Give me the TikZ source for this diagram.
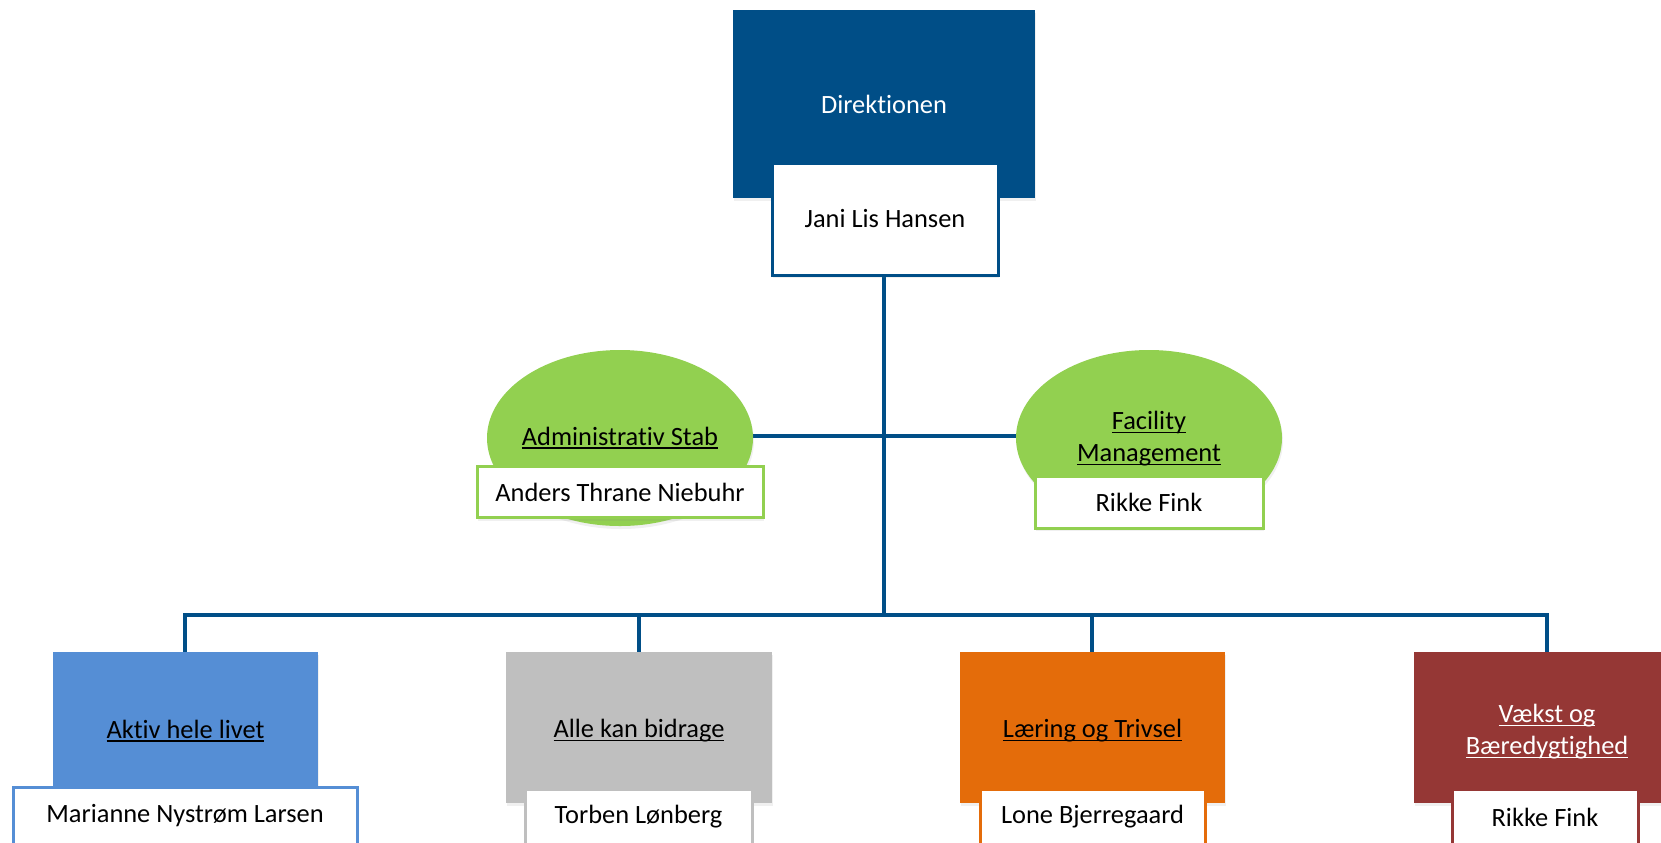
\documentclass[tikz,border=0pt]{standalone}
\usepackage{fontspec}
\setmainfont[Ligatures=NoCommon]{Carlito}
\usepackage{xcolor}
\usetikzlibrary{shapes.geometric,shadows}

\definecolor{dirblue}{RGB}{0,78,135}
\definecolor{aktblue}{RGB}{85,142,213}
\definecolor{allegray}{RGB}{191,191,191}
\definecolor{laerorange}{RGB}{228,108,10}
\definecolor{vaekred}{RGB}{149,55,53}
\definecolor{stabgreen}{RGB}{146,208,80}

% underline close to the baseline
\newcommand{\ulink}[1]{\setbox0\hbox{#1}\rlap{\rule[-1.7pt]{\wd0}{0.7pt}}\box0}

\tikzset{
	conn/.style={draw=dirblue,line width=2pt},
	unit/.style={rectangle,inner sep=0pt,align=center,
		drop shadow={opacity=0.12,shadow xshift=0.5pt,shadow yshift=-1.5pt}},
	stab/.style={ellipse,fill=stabgreen,inner sep=0pt,
		minimum width=133pt,minimum height=88pt,
		drop shadow={opacity=0.12,shadow xshift=0.5pt,shadow yshift=-1.5pt}},
	namebox/.style={rectangle,fill=white,line width=1.5pt,inner sep=0pt,
		minimum height=27pt,
		drop shadow={opacity=0.12,shadow xshift=0.5pt,shadow yshift=-1.5pt}}
}

\begin{document}
\begin{tikzpicture}[x=0.5pt,y=-0.5pt,font=\fontsize{13.2}{16}\selectfont]
		\useasboundingbox (0,0) rectangle (1661,842);
		
		% connectors first
		\coordinate (top) at (884,275);
		\coordinate (bus) at (884,615);
		\coordinate (stabL) at (753,436);
		\coordinate (stabR) at (1016,436);
		\draw[conn] (top) -- (bus);
		\draw[conn] (stabL) -- (stabR);
		\draw[conn] (185,652) |- (bus) -| (1547,652);
		\draw[conn] (639,615) -- (639,652);
		\draw[conn] (1092,615) -- (1092,652);
		
		% top
		\node[unit,fill=dirblue,text=white,minimum width=151pt,minimum height=94pt] (dir) at (884,104) {Direktionen};
		\node[namebox,draw=dirblue,minimum width=113pt,minimum height=56pt] (jani) at (885,219) {Jani Lis Hansen};
		
		% staff
		\node[stab] (adm) at (620,438) {};
		\node (admtxt) at (620,438) {\ulink{Administrativ Stab}};
		\node[namebox,draw=stabgreen,minimum width=143pt,minimum height=25.5pt] (anders) at (620,492) {Anders Thrane Niebuhr};
		\node[stab] (fac) at (1149,438) {};
		\node[align=center] (factxt) at (1149,439) {\ulink{Facility}\\\ulink{Management}};
		\node[namebox,draw=stabgreen,minimum width=114pt,minimum height=26pt] (rikkeA) at (1149,502) {Rikke Fink};
		
		% centres
		\node[unit,fill=aktblue,minimum width=132.5pt,minimum height=75.5pt] (akt) at (185.5,727.5) {};
		\node (akttxt) at (185.5,731) {\ulink{Aktiv hele livet}};
		\node[unit,fill=allegray,minimum width=133pt,minimum height=75.5pt] (alle) at (639,727.5) {};
		\node (alletxt) at (639,731) {\ulink{Alle kan bidrage}};
		\node[unit,fill=laerorange,minimum width=132.5pt,minimum height=75.5pt] (laer) at (1092.5,727.5) {};
		\node (laertxt) at (1092.5,731) {\ulink{Læring og Trivsel}};
		\node[unit,fill=vaekred,minimum width=133pt,minimum height=75.5pt] (vaek) at (1547,727.5) {};
		\node[align=center,text=white] (vaektxt) at (1547,732) {\ulink{Vækst og}\\\ulink{Bæredygtighed}};
		
		\node[namebox,draw=aktblue,minimum width=172pt,minimum height=29pt] (mar) at (185,816) {Marianne Nystrøm Larsen};
		\node[namebox,draw=allegray,minimum width=113.5pt,minimum height=28pt] (tor) at (638.5,817) {Torben Lønberg};
		\node[namebox,draw=laerorange,minimum width=112.5pt,minimum height=28pt] (lone) at (1092.5,817) {Lone Bjerregaard};
		\node[namebox,draw=vaekred,minimum width=93pt,minimum height=28pt] (rikkeB) at (1545,817) {Rikke Fink};
	\end{tikzpicture}
\end{document}
